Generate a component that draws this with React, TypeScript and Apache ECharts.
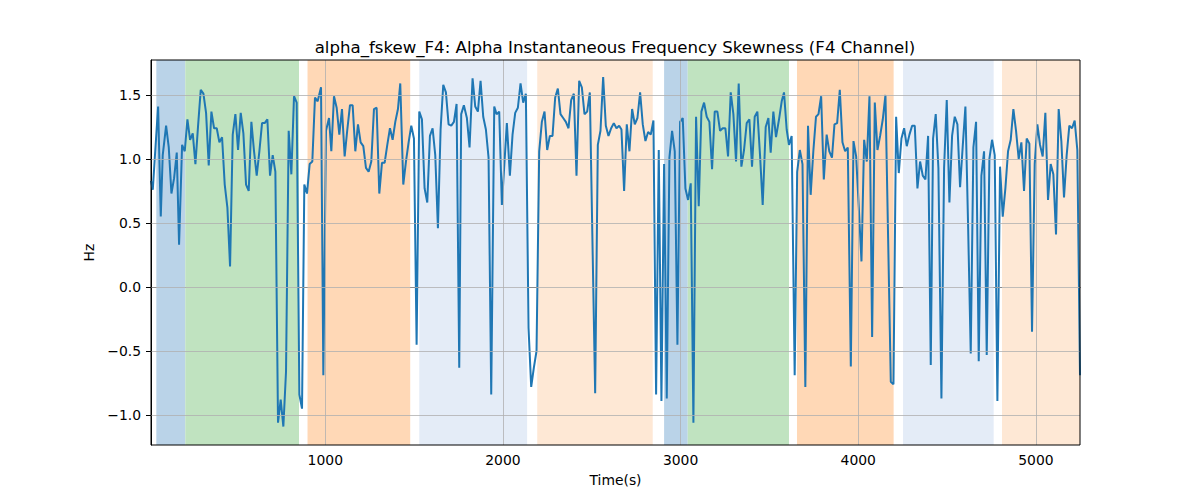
import { useEffect, useRef } from "react";
import * as echarts from "echarts";

// Time (s) and skewness (Hz)
const times = [
  19, 29, 40, 59, 74, 85, 104, 119, 134, 149, 164, 177, 194, 209, 224, 239, 254, 269, 284, 299,
  314, 329, 344, 359, 374, 389, 404, 419, 434, 449, 464, 479, 494, 509, 524, 539, 554, 569, 584, 599,
  614, 629, 644, 659, 674, 689, 704, 719, 734, 749, 764, 779, 794, 809, 824, 839, 854, 869, 882, 897,
  912, 927, 942, 957, 976, 989, 1004, 1021, 1034, 1049, 1064, 1079, 1094, 1109, 1124, 1139, 1154, 1169, 1184, 1199,
  1214, 1229, 1244, 1259, 1274, 1289, 1304, 1319, 1334, 1349, 1364, 1379, 1394, 1409, 1422, 1439, 1454, 1469, 1484, 1499,
  1514, 1529, 1544, 1559, 1574, 1589, 1604, 1619, 1634, 1649, 1664, 1679, 1694, 1709, 1724, 1739, 1754, 1765, 1780, 1797,
  1812, 1829, 1844, 1859, 1874, 1889, 1904, 1919, 1934, 1951, 1964, 1979, 1994, 2022, 2039, 2054, 2069, 2084, 2099, 2114,
  2129, 2144, 2159, 2174, 2189, 2204, 2219, 2234, 2249, 2264, 2279, 2294, 2309, 2324, 2339, 2354, 2369, 2384, 2399, 2414,
  2429, 2444, 2459, 2474, 2489, 2519, 2534, 2549, 2564, 2579, 2594, 2609, 2624, 2639, 2654, 2667, 2682, 2697, 2712, 2727,
  2742, 2757, 2772, 2787, 2802, 2817, 2832, 2847, 2862, 2877, 2892, 2907, 2922, 2937, 2952, 2967, 2982, 2997, 3012, 3027,
  3042, 3057, 3072, 3087, 3102, 3117, 3132, 3147, 3162, 3177, 3192, 3207, 3222, 3237, 3252, 3267, 3282, 3297, 3312, 3327,
  3342, 3357, 3372, 3387, 3402, 3417, 3432, 3447, 3462, 3479, 3494, 3507, 3522, 3537, 3554, 3569, 3582, 3597, 3610, 3625,
  3642, 3656, 3671, 3686, 3702, 3717, 3732, 3747, 3762, 3776, 3791, 3806, 3822, 3837, 3852, 3866, 3881, 3896, 3911, 3926,
  3941, 3958, 3973, 3988, 4003, 4018, 4033, 4048, 4063, 4078, 4093, 4108, 4123, 4138, 4153, 4168, 4183, 4198, 4213, 4228,
  4243, 4258, 4273, 4288, 4303, 4318, 4333, 4348, 4363, 4378, 4393, 4408, 4421, 4436, 4451, 4468, 4483, 4498, 4513, 4528,
  4543, 4558, 4573, 4588, 4603, 4618, 4633, 4648, 4663, 4678, 4693, 4708, 4723, 4738, 4753, 4768, 4783, 4798, 4813, 4828,
  4843, 4858, 4873, 4888, 4903, 4918, 4933, 4948, 4963, 4978, 4993, 5008, 5023, 5038, 5053, 5068, 5083, 5098, 5113, 5128,
  5143, 5158, 5173, 5188, 5203, 5218, 5233, 5248,
];

const skew = [
  0.83, 0.76, 1.0, 1.41, 0.55, 1.03, 1.26, 1.09, 0.73, 0.85, 1.05, 0.33, 1.11, 1.06, 1.31, 1.15, 1.2, 0.96, 1.26, 1.54,
  1.51, 1.36, 0.95, 1.37, 1.24, 1.24, 1.13, 1.17, 0.8, 0.62, 0.16, 1.19, 1.35, 1.07, 1.36, 1.2, 0.8, 0.75, 1.29, 1.06,
  0.87, 1.06, 1.28, 1.28, 1.31, 0.87, 1.03, 0.9, -1.06, -0.88, -1.09, -0.66, 1.22, 0.88, 1.49, 1.44, -0.84, -0.95, 0.8, 0.73,
  0.96, 0.98, 1.48, 1.45, 1.56, -0.69, 1.22, 1.32, 1.06, 1.49, 1.4, 1.19, 1.39, 1.02, 1.23, 1.42, 1.42, 1.06, 1.27, 1.13,
  1.1, 0.93, 0.9, 0.98, 1.39, 1.4, 0.73, 0.97, 0.97, 1.11, 1.24, 1.15, 1.29, 1.39, 1.59, 0.8, 0.98, 1.13, 1.26, 1.16,
  -0.45, 1.37, 1.31, 0.77, 0.66, 1.18, 1.24, 1.03, 0.46, 1.23, 1.58, 1.52, 1.27, 1.26, 1.29, 1.43, -0.63, 1.35, 1.42, 1.32,
  1.09, 1.63, 1.41, 1.37, 1.61, 1.33, 1.23, 1.01, -0.84, 1.41, 1.35, 1.37, 0.64, 1.28, 0.87, 1.19, 1.36, 1.4, 1.59, 1.44,
  1.51, -0.32, -0.78, -0.63, -0.5, 1.06, 1.29, 1.37, 1.07, 1.18, 1.18, 1.48, 1.55, 1.35, 1.32, 1.29, 1.24, 1.46, 1.51, 0.87,
  1.61, 1.56, 1.35, 1.37, 1.52, -0.83, 1.11, 1.22, 1.64, 1.26, 1.18, 1.24, 1.28, 1.24, 1.26, 1.23, 0.75, 1.27, 1.06, 1.39,
  1.27, 1.32, 1.52, 1.27, 1.14, 1.21, 1.19, 1.3, -0.84, 1.07, -0.89, 0.96, -0.87, 1.01, 1.22, 1.06, -0.45, 1.29, 1.32, 0.77,
  0.68, 0.81, -1.06, 1.33, 0.63, 1.37, 1.44, 1.33, 1.29, 0.92, 1.37, 1.37, 1.22, 1.24, 1.24, 1.02, 1.52, 1.35, 0.98, 1.59,
  0.94, 1.07, 1.28, 1.31, 0.94, 1.33, 1.37, 1.03, 0.64, 1.25, 1.32, 1.05, 1.37, 1.17, 1.31, 1.45, 1.52, 1.23, 1.11, 1.18,
  -0.69, 0.9, 1.07, 0.96, -0.78, 1.26, 0.72, 1.06, 1.33, 1.35, 1.49, 0.84, 1.19, 1.06, 1.01, 1.27, 1.28, 1.54, 1.13, 1.06,
  1.09, -0.62, 1.14, 1.02, 0.62, 0.2, 1.15, 0.98, 1.49, -0.39, 1.44, 1.07, 1.18, 1.31, 1.5, 0.38, -0.74, -0.76, 1.33, 0.89,
  1.16, 1.24, 1.1, 1.19, 1.26, 1.26, 0.77, 0.98, 0.87, 0.84, 1.18, -0.61, 1.16, 1.35, 0.93, -0.87, 0.93, 1.46, 0.66, 1.18,
  1.33, 1.27, 0.78, 1.1, 1.41, 0.49, -0.52, 1.09, 1.29, -0.58, 0.87, 1.06, -0.53, 1.0, 1.15, 1.03, -0.89, 0.94, 0.55, 0.77,
  1.06, 1.15, 1.39, 1.22, 1.0, 1.13, 0.75, 1.16, 1.12, -0.35, 0.96, 1.27, 1.11, 1.02, 1.36, 0.68, 0.96, 0.88, 0.41, 1.39,
  1.14, 0.7, 1.03, 1.26, 1.24, 1.3, 1.07, -0.69,
];

// Shaded segments [start, end] and their fill colours
const spanStarts = [49, 212, 900, 1529, 2193, 2907, 3040, 3655, 4252, 4809];
const spanEnds = [212, 852, 1478, 2136, 2843, 3040, 3610, 4199, 4762, 5248];
const spanColors = [
  "#bad3e8", "#c0e3c0", "#ffd8b6", "#e4ecf7", "#fee8d5",
  "#bad3e8", "#c0e3c0", "#ffd8b6", "#e4ecf7", "#fee8d5",
];

const xTicks = [1000, 2000, 3000, 4000, 5000];
const yTicks = [-1.0, -0.5, 0.0, 0.5, 1.0, 1.5];

const X_MIN = 19;
const X_MAX = 5248;
const Y_MIN = -1.234;
const Y_MAX = 1.773;

const FONT = "DejaVu Sans";

const fmtY = (v: number) => v.toFixed(1).replace("-", "\u2212");

export default function App() {
  const ref = useRef<HTMLDivElement | null>(null);

  useEffect(() => {
    document.body.style.margin = "0";
    if (!ref.current) return;
    const chart = echarts.init(ref.current, null, { renderer: "svg" });

    const gridLines: any[] = [
      ...xTicks.map((t) => ({ xAxis: t })),
      ...yTicks.map((t) => ({ yAxis: t })),
    ];

    chart.setOption({
      animation: false,
      backgroundColor: "#ffffff",
      title: {
        text: "alpha_fskew_F4: Alpha Instantaneous Frequency Skewness (F4 Channel)",
        left: 610,
        top: 34,
        textAlign: "center",
        textStyle: { fontFamily: FONT, fontSize: 16.6, fontWeight: "normal", color: "#000" },
      },
      grid: { left: 151, top: 60, right: 120, bottom: 55, containLabel: false },
      xAxis: {
        type: "value",
        min: X_MIN,
        max: X_MAX,
        name: "Time(s)",
        nameLocation: "middle",
        nameGap: 28,
        nameTextStyle: { fontFamily: FONT, fontSize: 13.9, color: "#000" },
        axisLine: { show: true, lineStyle: { color: "#000", width: 1 } },
        axisTick: { show: true, length: 5, lineStyle: { color: "#000" }, customValues: xTicks },
        axisLabel: {
          fontFamily: FONT,
          fontSize: 13.9,
          color: "#000",
          margin: 8,
          customValues: xTicks,
          formatter: (v: number) => String(v),
        },
        splitLine: { show: false },
      },
      yAxis: {
        type: "value",
        min: Y_MIN,
        max: Y_MAX,
        name: "Hz",
        nameLocation: "middle",
        nameGap: 50,
        nameRotate: 90,
        nameTextStyle: { fontFamily: FONT, fontSize: 13.9, color: "#000" },
        axisLine: { show: true, lineStyle: { color: "#000", width: 1 } },
        axisTick: { show: true, length: 5, lineStyle: { color: "#000" }, customValues: yTicks },
        axisLabel: {
          fontFamily: FONT,
          fontSize: 13.9,
          color: "#000",
          margin: 10,
          customValues: yTicks,
          formatter: (v: number) => fmtY(v),
        },
        splitLine: { show: false },
      },
      graphic: [
        {
          type: "rect",
          z: 100,
          silent: true,
          shape: { x: 151, y: 60, width: 929, height: 385 },
          style: { fill: "none", stroke: "#000", lineWidth: 1 },
        },
      ],
      series: [
        {
          name: "spans",
          type: "line",
          data: [],
          z: 1,
          silent: true,
          markArea: {
            silent: true,
            data: spanStarts.map((s, i) => [
              { xAxis: s, itemStyle: { color: spanColors[i] } },
              { xAxis: spanEnds[i] },
            ]),
          },
        },
        {
          name: "grid",
          type: "line",
          data: [],
          z: 2,
          silent: true,
          markLine: {
            silent: true,
            symbol: ["none", "none"],
            label: { show: false },
            lineStyle: { color: "#b0b0b0", width: 0.8, type: "solid" },
            emphasis: { disabled: true },
            data: gridLines,
          },
        },
        {
          name: "alpha_fskew_F4",
          type: "line",
          z: 3,
          symbol: "none",
          lineStyle: { color: "#1f77b4", width: 2 },
          itemStyle: { color: "#1f77b4" },
          data: times.map((t, i) => [t, skew[i]]),
        },
      ],
    });

    return () => chart.dispose();
  }, []);

  return <div ref={ref} style={{ width: 1200, height: 500 }} />;
}
